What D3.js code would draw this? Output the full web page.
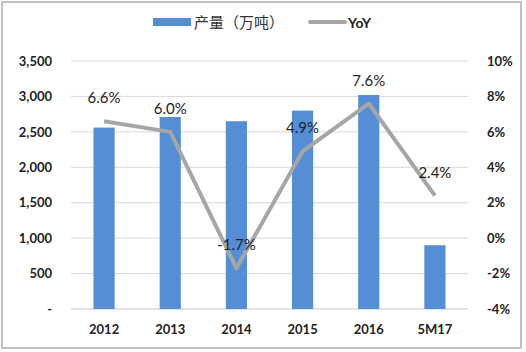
<!DOCTYPE html>
<html><head><meta charset="utf-8">
<script src="https://cdn.jsdelivr.net/npm/d3@7"></script>
<style>body{margin:0;background:#fff;}svg{display:block;}</style>
</head><body>
<script>
const categories = ["2012","2013","2014","2015","2016","5M17"];
const output = [2560, 2710, 2650, 2800, 3020, 900];
const yoy = [6.6, 6.0, -1.7, 4.9, 7.6, 2.4];
const yoyLabels = ["6.6%","6.0%","-1.7%","4.9%","7.6%","2.4%"];
const leftTicks = [0,500,1000,1500,2000,2500,3000,3500];
const rightTicks = [-4,-2,0,2,4,6,8,10];
const legendLabels = ["产量（万吨）","YoY"];

const W=526,H=352;
const svg=d3.select("body").append("svg").attr("width",W).attr("height",H);
svg.append("rect").attr("x",2).attr("y",2).attr("width",519).attr("height",346)
  .attr("fill","#fff").attr("stroke","#bfbfbf").attr("stroke-width",2);

const L=71,R=468,T=61,B=309;
const x=d3.scaleBand().domain(categories).range([L,R]).paddingInner(0.68).paddingOuter(0.34);
const yL=d3.scaleLinear().domain([0,3500]).range([B,T]);
const yR=d3.scaleLinear().domain([-4,10]).range([B,T]);
const font="Lato, 'Liberation Sans', sans-serif";

// gridlines
svg.append("g").selectAll("line").data(leftTicks).join("line")
  .attr("x1",L).attr("x2",R).attr("y1",d=>yL(d)).attr("y2",d=>yL(d))
  .attr("stroke","#d9d9d9").attr("stroke-width",1);

// left axis
const gl=svg.append("g").attr("transform",`translate(${L},0)`)
  .call(d3.axisLeft(yL).tickValues(leftTicks).tickSize(0).tickPadding(19)
    .tickFormat(d=>d===0?"-":d3.format(",")(d)));
gl.select(".domain").remove();
gl.selectAll("text").attr("font-family",font).attr("font-size",13).attr("font-weight","bold").attr("fill","#222");

// right axis
const gr=svg.append("g").attr("transform",`translate(${R},0)`)
  .call(d3.axisRight(yR).tickValues(rightTicks).tickSize(0).tickPadding(19)
    .tickFormat(d=>d+"%"));
gr.select(".domain").remove();
gr.selectAll("text").attr("font-family",font).attr("font-size",13).attr("font-weight","bold").attr("fill","#222");

// bottom axis
const gb=svg.append("g").attr("transform",`translate(0,${B})`)
  .call(d3.axisBottom(x).tickSize(0).tickPadding(16));
gb.select(".domain").attr("stroke","#d9d9d9").attr("d",`M${L},0H${R}`);
gb.selectAll("text").attr("font-family",font).attr("font-size",13).attr("font-weight","bold").attr("fill","#222");

// bars
svg.append("g").selectAll("rect").data(categories).join("rect")
  .attr("x",d=>x(d)).attr("width",x.bandwidth())
  .attr("y",(d,i)=>yL(output[i])).attr("height",(d,i)=>yL(0)-yL(output[i]))
  .attr("fill","#558ed5");

// line
const cx=d=>x(d)+x.bandwidth()/2;
const line=d3.line().x((d,i)=>cx(categories[i])).y(d=>yR(d));
svg.append("path").datum(yoy).attr("d",line).attr("fill","none")
  .attr("stroke","#a6a6a6").attr("stroke-width",4).attr("stroke-linejoin","round");

// data labels
svg.append("g").selectAll("text").data(yoy).join("text")
  .attr("x",(d,i)=>cx(categories[i])).attr("y",d=>yR(d)-18)
  .attr("text-anchor","middle").attr("font-family",font).attr("font-size",15)
  .attr("fill","#222").text((d,i)=>yoyLabels[i]);

// legend
const lg=svg.append("g");
lg.append("rect").attr("x",153).attr("y",18).attr("width",38).attr("height",8).attr("fill","#558ed5");
lg.append("text").attr("x",194).attr("y",28).attr("font-family","'Noto Sans CJK SC', sans-serif")
  .attr("font-size",15).attr("fill","#333").text(legendLabels[0]);
lg.append("line").attr("x1",310).attr("x2",345).attr("y1",22).attr("y2",22)
  .attr("stroke","#a6a6a6").attr("stroke-width",4).attr("stroke-linecap","round");
lg.append("text").attr("x",348).attr("y",28).attr("font-family",font).attr("font-weight","bold")
  .attr("font-size",14).attr("fill","#222").text(legendLabels[1]);
</script>
</body></html>
